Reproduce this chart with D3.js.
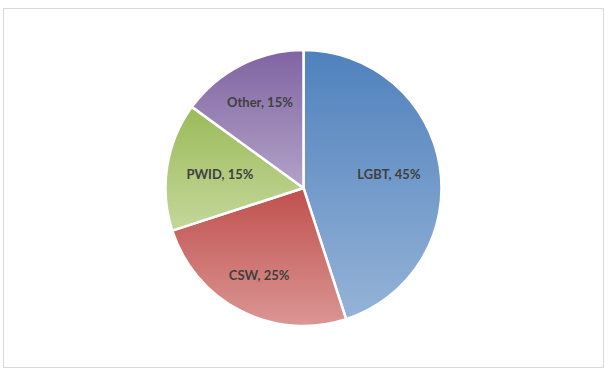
<!DOCTYPE html>
<html>
<head>
<meta charset="utf-8">
<script src="https://cdn.jsdelivr.net/npm/d3@7"></script>
<style>
  html, body { margin: 0; padding: 0; background: #fff; }
  svg { display: block; }
</style>
</head>
<body>
<svg id="chart" width="610" height="374"></svg>
<script>
const categories = ["LGBT", "CSW", "PWID", "Other"];
const values = [45, 25, 15, 15];
const topColors = ["#4f81bd", "#c0504d", "#9bbb59", "#8064a2"];
const bottomColors = ["#95b3d7", "#da9694", "#c4d79b", "#b3a2c7"];

const W = 610, H = 374;
const cx = 303.5, cy = 188, R = 138;

const svg = d3.select("#chart");

svg.append("rect")
  .attr("x", 3.5).attr("y", 8.5)
  .attr("width", 600).attr("height", 359)
  .attr("fill", "#fff")
  .attr("stroke", "#d9d9d9")
  .attr("stroke-width", 1);

const defs = svg.append("defs");
categories.forEach((c, i) => {
  const g = defs.append("linearGradient")
    .attr("id", "grad" + i)
    .attr("x1", 0).attr("y1", 0).attr("x2", 0).attr("y2", 1);
  g.append("stop").attr("offset", "0%").attr("stop-color", topColors[i]);
  g.append("stop").attr("offset", "100%").attr("stop-color", bottomColors[i]);
});

const data = categories.map((c, i) => ({ cat: c, value: values[i], idx: i }));
const pie = d3.pie().value(d => d.value).sort(null);
const arcs = pie(data);

const arc = d3.arc().innerRadius(0).outerRadius(R);

const g = svg.append("g").attr("transform", `translate(${cx},${cy})`);

g.selectAll("path.slice")
  .data(arcs)
  .join("path")
  .attr("class", "slice")
  .attr("d", arc)
  .attr("fill", d => `url(#grad${d.data.idx})`)
  .attr("stroke", "#fff")
  .attr("stroke-width", 2.5)
  .attr("stroke-linejoin", "round");

const total = d3.sum(values);
const labels = g.selectAll("text.lbl")
  .data(arcs)
  .join("text")
  .attr("class", "lbl")
  .attr("text-anchor", "middle")
  .attr("dy", "0.35em")
  .attr("font-family", "Lato, 'Open Sans', sans-serif")
  .attr("font-weight", "bold")
  .attr("font-size", "13px")
  .attr("fill", "#404040")
  .text(d => `${d.data.cat}, ${Math.round(d.data.value / total * 100)}%`);

// best-fit: push label out along mid-angle until its far corner reaches T
const T = R * 0.86;
labels.each(function(d) {
  const bb = this.getBBox();
  const hw = bb.width / 2, hh = 5;
  const a = (d.startAngle + d.endAngle) / 2;
  const ux = Math.sin(a), uy = -Math.cos(a);
  const c = [Math.sign(ux) * hw, Math.sign(uy) * hh];
  const uc = ux * c[0] + uy * c[1];
  const dist = -uc + Math.sqrt(uc * uc - (c[0] * c[0] + c[1] * c[1]) + T * T);
  d3.select(this).attr("transform", `translate(${ux * dist},${uy * dist})`);
});
</script>
</body>
</html>
